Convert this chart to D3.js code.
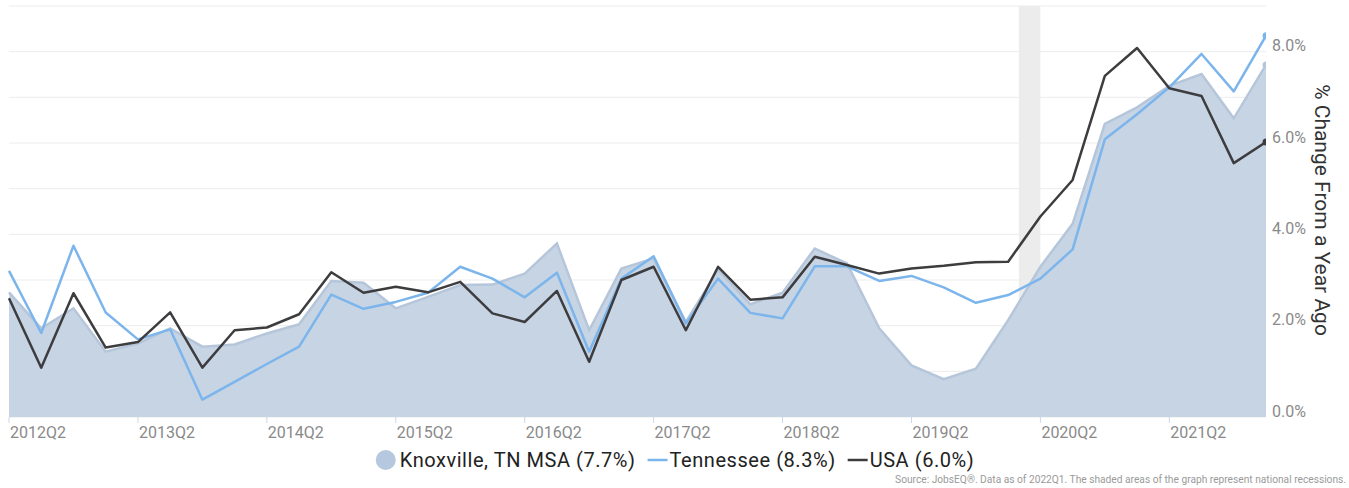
<!DOCTYPE html>
<html>
<head>
<meta charset="utf-8">
<script src="https://cdn.jsdelivr.net/npm/d3@7"></script>
<style>
  body { margin: 0; background: #fff; }
  svg { font-family: Roboto, "Noto Sans", sans-serif; display: block; }
</style>
</head>
<body>
<div id="chart"></div>
<script>
// quarters 2012Q2 .. 2022Q1
var quarters = [];
for (var y = 2012; y <= 2022; y++) {
  for (var q = 1; q <= 4; q++) {
    if ((y == 2012 && q < 2) || (y == 2022 && q > 1)) continue;
    quarters.push(y + "Q" + q);
  }
}

// % change from a year ago
var knoxville = [2.73, 1.94, 2.38, 1.43, 1.61, 1.94, 1.54, 1.59, 1.83, 2.03,
  2.98, 2.94, 2.38, 2.63, 2.89, 2.90, 3.14, 3.80, 1.90, 3.25,
  3.47, 2.08, 3.22, 2.47, 2.72, 3.69, 3.36, 1.94, 1.13, 0.83,
  1.06, 2.12, 3.29, 4.23, 6.42, 6.78, 7.25, 7.51, 6.54, 7.71];
var tennessee = [3.20, 1.84, 3.75, 2.29, 1.70, 1.92, 0.38, 0.77, 1.16, 1.54,
  2.68, 2.37, 2.52, 2.72, 3.29, 3.03, 2.62, 3.16, 1.43, 3.03,
  3.52, 2.05, 3.03, 2.28, 2.16, 3.30, 3.30, 2.98, 3.09, 2.84,
  2.50, 2.67, 3.03, 3.67, 6.08, 6.63, 7.22, 7.95, 7.13, 8.35];
var usa = [2.60, 1.08, 2.71, 1.52, 1.64, 2.29, 1.08, 1.90, 1.96, 2.25,
  3.17, 2.72, 2.85, 2.73, 2.96, 2.27, 2.08, 2.76, 1.21, 3.00,
  3.29, 1.90, 3.29, 2.57, 2.62, 3.51, 3.33, 3.14, 3.25, 3.31,
  3.39, 3.40, 4.39, 5.19, 7.47, 8.08, 7.20, 7.03, 5.56, 6.02];

var tickLabels = ["2012Q2", "2013Q2", "2014Q2", "2015Q2", "2016Q2", "2017Q2",
  "2018Q2", "2019Q2", "2020Q2", "2021Q2"];
var yTicks = [0, 2, 4, 6, 8];
var yGrid = [0, 1, 2, 3, 4, 5, 6, 7, 8, 9];
// national recession, Feb 2020 - Apr 2020 (decimal years)
var recessions = [[2020 + 1 / 12, 2020.25]];

var legendNames = ["Knoxville, TN MSA (7.7%)", "Tennessee (8.3%)", "USA (6.0%)"];
var sourceText = "Source: JobsEQ\u00ae. Data as of 2022Q1. The shaded areas of the graph represent national recessions.";

var W = 1349, H = 488;
var margin = {t: 6, r: 83, b: 71, l: 9};
var width = W - margin.l - margin.r,
    height = H - margin.t - margin.b;

// quarter string -> decimal year
function qToYear(s) {
  return +s.slice(0, 4) + (+s.slice(5) - 1) / 4;
}

var svg = d3.select("#chart").append("svg")
  .attr("width", W)
  .attr("height", H);

svg.append("defs").append("clipPath").attr("id", "plotclip")
  .append("rect").attr("x", -2).attr("y", -2).attr("width", width + 2).attr("height", height + 4);

var plot = svg.append("g")
  .attr("transform", "translate(" + margin.l + "," + margin.t + ")");

var x = d3.scaleLinear()
  .domain([qToYear(quarters[0]), qToYear(quarters[quarters.length - 1])])
  .range([0, width]);
var y = d3.scaleLinear().domain([0, 9]).range([height, 0]);

// gridlines
plot.selectAll(".grid").data(yGrid).enter().append("line")
  .attr("x1", 0).attr("x2", width)
  .attr("y1", function(d) { return y(d); })
  .attr("y2", function(d) { return y(d); })
  .style("stroke", "#ececec")
  .style("stroke-width", 1);

// recession band
plot.selectAll(".rec").data(recessions).enter().append("rect")
  .attr("x", function(d) { return x(d[0]); })
  .attr("width", function(d) { return x(d[1]) - x(d[0]); })
  .attr("y", 0)
  .attr("height", height)
  .style("fill", "#ececec");

var data = quarters.map(function(q, i) {
  return {t: qToYear(q), knox: knoxville[i], tn: tennessee[i], us: usa[i]};
});
var last = data[data.length - 1];

var series = plot.append("g").attr("clip-path", "url(#plotclip)");

var area = d3.area()
  .x(function(d) { return x(d.t); })
  .y0(y(0))
  .y1(function(d) { return y(d.knox); });

series.append("path")
  .datum(data)
  .attr("d", area)
  .style("fill", "#c5d3e3")
  .style("fill-opacity", 0.97);

series.append("path")
  .datum(data)
  .attr("d", d3.line().x(function(d) { return x(d.t); }).y(function(d) { return y(d.knox); }))
  .style("fill", "none")
  .style("stroke", "#b6c6da")
  .style("stroke-width", 2.5);

function drawLine(key, color) {
  series.append("path")
    .datum(data)
    .attr("d", d3.line().x(function(d) { return x(d.t); }).y(function(d) { return y(d[key]); }))
    .style("fill", "none")
    .style("stroke", color)
    .style("stroke-width", 2.5)
    .style("stroke-linejoin", "round");
  // end marker, half of it clipped by the plot edge
  series.append("circle")
    .attr("cx", x(last.t))
    .attr("cy", y(last[key]))
    .attr("r", 3.5)
    .style("fill", color);
}
series.append("circle")
  .attr("cx", x(last.t)).attr("cy", y(last.knox)).attr("r", 3.5)
  .style("fill", "#b6c6da");
drawLine("tn", "#7cb5ec");
drawLine("us", "#3d3d40");

// x axis ticks + labels
var xTickG = plot.selectAll(".xt").data(tickLabels).enter().append("g")
  .attr("transform", function(d) { return "translate(" + x(qToYear(d)) + "," + height + ")"; });
xTickG.append("line")
  .attr("y1", 0).attr("y2", 6)
  .style("stroke", "#ccd6eb");
xTickG.append("text")
  .attr("x", 1)
  .attr("y", 21)
  .style("font-size", "16px")
  .style("fill", "#8a8a8a")
  .text(function(d) { return d; });

// y labels on the right
plot.selectAll(".yl").data(yTicks).enter().append("text")
  .attr("x", width + 6)
  .attr("y", function(d) { return y(d) - 0.5; })
  .style("font-size", "16px")
  .style("fill", "#8a8a8a")
  .text(function(d) { return d.toFixed(1) + "%"; });

// axis title
svg.append("text")
  .attr("transform", "translate(1315," + 210 + ") rotate(90)")
  .attr("text-anchor", "middle")
  .style("font-size", "21px")
  .style("fill", "#333")
  .text("% Change From a Year Ago");

// legend
var legend = svg.append("g");
var lx = 0;
var items = [
  {name: legendNames[0], type: "circle", color: "#b6c8df"},
  {name: legendNames[1], type: "line", color: "#7cb5ec"},
  {name: legendNames[2], type: "line", color: "#3d3d40"}
];
items.forEach(function(it, i) {
  var g = legend.append("g").attr("transform", "translate(" + lx + ",0)");
  var symW;
  if (it.type == "circle") {
    g.append("circle").attr("cx", 10).attr("cy", 0).attr("r", 10).style("fill", it.color);
    symW = 24;
  } else {
    g.append("line").attr("x1", 0).attr("x2", 20).attr("y1", 0).attr("y2", 0)
      .style("stroke", it.color).style("stroke-width", 2.5);
    symW = 22;
  }
  var t = g.append("text")
    .attr("x", symW)
    .attr("y", 7)
    .style("font-size", "20px")
    .style("letter-spacing", "0.55px")
    .style("fill", "#222")
    .text(it.name);
  lx += symW + t.node().getComputedTextLength() + 12;
});
lx -= 12;
legend.attr("transform", "translate(" + (675 - lx / 2) + ",460)");

// source note
svg.append("text")
  .attr("x", W - 3)
  .attr("y", 483)
  .attr("text-anchor", "end")
  .style("font-size", "10.2px")
  .style("fill", "#9a9a9a")
  .text(sourceText);
</script>
</body>
</html>
